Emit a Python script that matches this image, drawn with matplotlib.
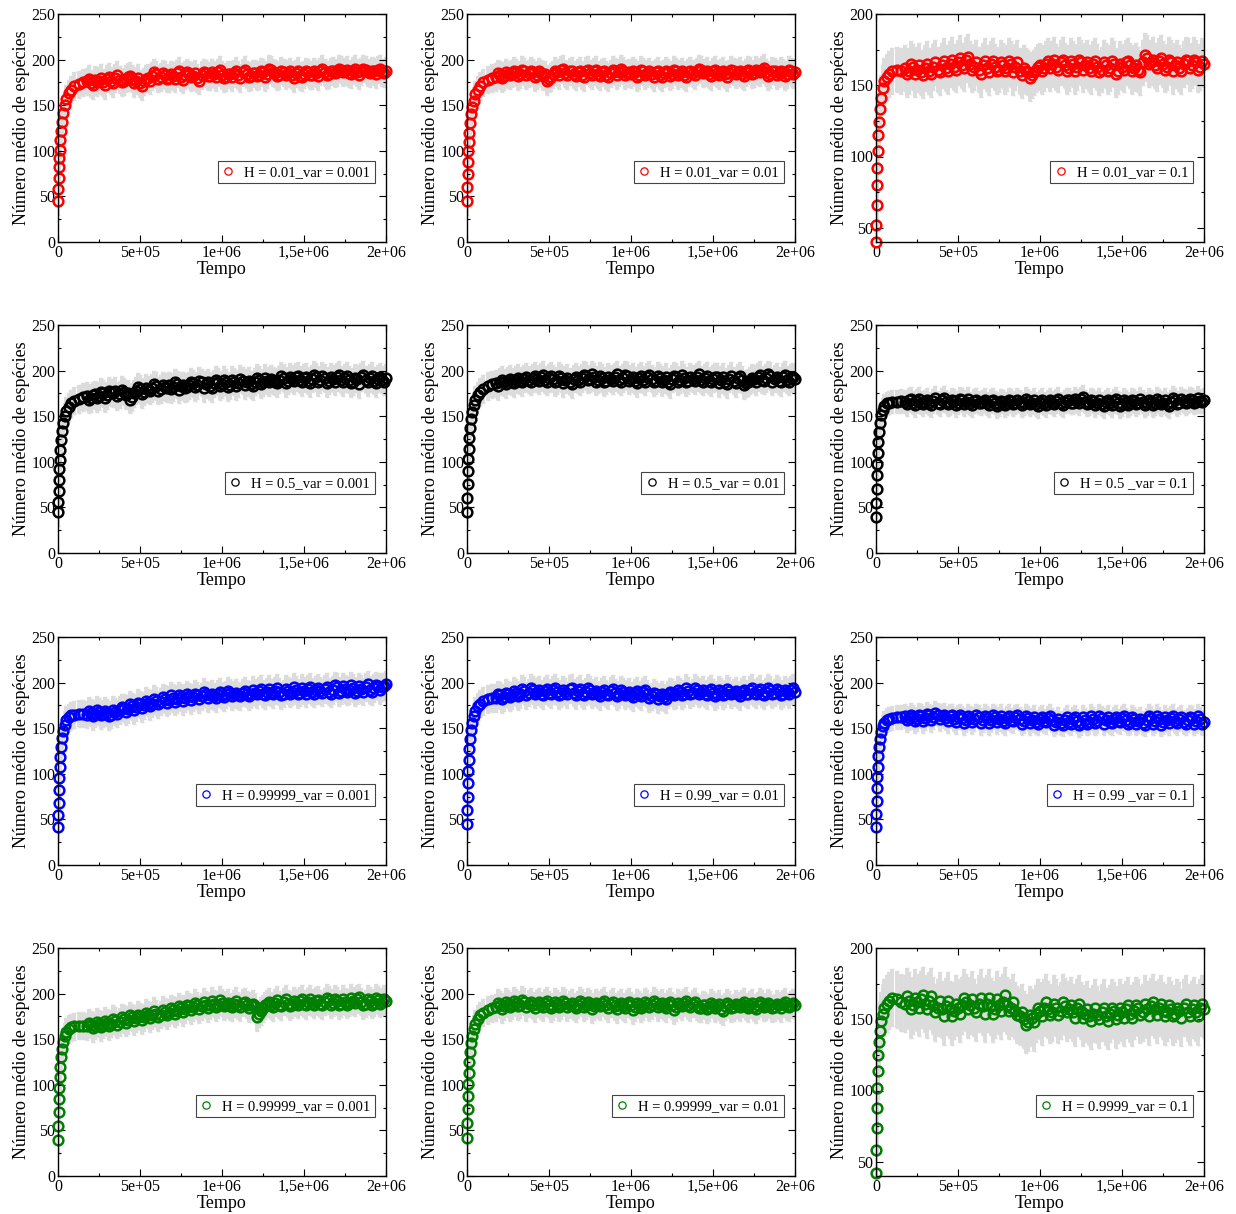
import matplotlib
matplotlib.use('Agg')
import matplotlib.pyplot as plt
import numpy as np
from matplotlib.ticker import MultipleLocator

plt.rcParams['font.family'] = ['Liberation Serif', 'DejaVu Serif']

# sampling times: dense during the initial rise, then every 1.25e4 steps
t_early = [0, 2e3, 4e3, 6e3, 8e3, 1e4, 1.4e4, 1.8e4, 2.4e4, 3e4, 4e4, 5e4,
           6.5e4, 8e4, 1e5, 1.25e5, 1.5e5]
t_late = list(np.arange(1.75e5, 2.0e6 + 1, 1.25e4))   # 147 samples
tempo = np.array(t_early + t_late)

# Each run: early rise (17), late samples on the 2.5e4 grid (74) and the
# samples halfway between them (73).

# H = 0.01
h001_v0001_ini = [45, 58, 70, 82, 92, 101, 112, 122, 132, 141, 150, 157, 163, 167, 171, 173, 175]
h001_v0001_a = [176, 174, 178, 177, 175, 179, 177, 180, 178, 176,
                181, 179, 177, 174, 176, 180, 182, 184, 181, 183,
                180, 182, 185, 181, 183, 184, 182, 180, 183, 185,
                182, 184, 186, 183, 181, 184, 185, 183, 186, 184,
                182, 185, 183, 186, 184, 189, 185, 183, 186, 185,
                183, 185, 182, 184, 186, 183, 185, 187, 186, 184,
                188, 186, 189, 187, 185, 188, 186, 187, 189, 185,
                187, 189, 186, 188]
h001_v0001_b = [179, 172, 175, 180, 172, 181, 174, 183, 175, 179,
                182, 174, 180, 171, 179, 177, 186, 179, 185, 179,
                184, 179, 188, 178, 186, 181, 185, 177, 186, 182,
                186, 181, 189, 180, 184, 181, 188, 180, 189, 181,
                185, 182, 187, 181, 190, 186, 182, 188, 183, 187,
                180, 188, 181, 187, 183, 187, 182, 190, 183, 187,
                185, 190, 186, 189, 184, 190, 183, 190, 186, 188,
                184, 190, 185]

h001_v001_ini = [45, 60, 75, 88, 100, 110, 120, 130, 140, 148, 155, 162, 167, 171, 175, 178, 180]
h001_v001_a = [181, 183, 182, 184, 185, 186, 184, 187, 185, 186,
               183, 185, 184, 179, 184, 186, 189, 185, 187, 184,
               186, 183, 188, 185, 187, 184, 186, 183, 185, 187,
               186, 188, 185, 184, 186, 183, 187, 185, 184, 186,
               183, 185, 186, 184, 187, 185, 183, 186, 185, 187,
               189, 186, 184, 187, 185, 186, 184, 185, 187, 186,
               184, 186, 188, 185, 187, 189, 186, 184, 187, 185,
               186, 184, 187, 186]
h001_v001_b = [185, 180, 186, 183, 188, 182, 189, 183, 188, 181,
               187, 182, 176, 181, 188, 183, 190, 183, 188, 182,
               188, 181, 189, 183, 189, 182, 187, 181, 189, 183,
               190, 183, 186, 188, 181, 189, 183, 187, 181, 188,
               181, 188, 182, 189, 183, 187, 181, 188, 183, 190,
               185, 188, 182, 189, 183, 188, 181, 189, 184, 188,
               182, 189, 184, 189, 186, 191, 182, 188, 183, 188,
               182, 189, 184]

h001_v01_ini = [40, 52, 66, 80, 92, 104, 115, 124, 133, 141, 148, 153, 156, 158, 160, 161, 160]
h001_v01_a = [162, 160, 163, 161, 159, 162, 160, 163, 161, 164,
              162, 165, 163, 166, 164, 168, 165, 163, 161, 164,
              162, 165, 163, 161, 164, 162, 165, 163, 160, 162,
              159, 157, 161, 164, 162, 167, 165, 163, 166, 164,
              162, 165, 163, 166, 164, 162, 165, 163, 161, 164,
              162, 165, 160, 163, 166, 164, 162, 161, 166, 169,
              166, 164, 167, 165, 163, 166, 164, 162, 165, 167,
              164, 166, 163, 165]
h001_v01_b = [158, 165, 158, 164, 157, 165, 158, 166, 159, 167,
              160, 168, 161, 169, 162, 170, 161, 166, 158, 167,
              159, 167, 160, 166, 160, 167, 159, 166, 157, 160,
              155, 159, 163, 160, 165, 162, 168, 161, 168, 160,
              167, 160, 168, 161, 166, 160, 167, 159, 166, 160,
              167, 158, 165, 161, 167, 160, 164, 159, 171, 165,
              168, 162, 169, 161, 168, 160, 166, 160, 168, 162,
              168, 161, 167]

# H = 0.5
h05_v0001_ini = [45, 56, 68, 80, 92, 102, 113, 124, 134, 143, 150, 156, 160, 164, 167, 169, 171]
h05_v0001_a = [172, 170, 174, 172, 175, 173, 176, 178, 174, 177,
               175, 171, 178, 180, 177, 179, 181, 183, 180, 182,
               184, 182, 185, 183, 181, 184, 186, 184, 187, 185,
               183, 186, 188, 185, 187, 184, 188, 186, 189, 187,
               185, 188, 190, 187, 189, 191, 188, 190, 192, 189,
               191, 193, 190, 192, 189, 191, 193, 190, 192, 189,
               191, 193, 190, 192, 190, 188, 191, 193, 190, 192,
               189, 191, 190, 192]
h05_v0001_b = [168, 173, 170, 177, 170, 178, 175, 172, 179, 173,
               168, 175, 182, 174, 181, 178, 185, 178, 184, 181,
               180, 187, 179, 184, 182, 188, 182, 189, 181, 187,
               181, 190, 183, 190, 182, 190, 183, 191, 184, 189,
               183, 192, 185, 192, 187, 189, 186, 194, 186, 193,
               189, 194, 187, 193, 186, 195, 187, 194, 186, 193,
               188, 195, 187, 194, 186, 192, 185, 195, 187, 194,
               186, 193, 188]

h05_v001_ini = [45, 60, 76, 90, 103, 114, 126, 137, 147, 155, 162, 168, 173, 177, 180, 183, 185]
h05_v001_a = [186, 188, 187, 189, 188, 190, 189, 191, 190, 192,
              191, 193, 190, 192, 191, 189, 192, 190, 188, 191,
              190, 192, 194, 191, 193, 190, 192, 189, 191, 193,
              190, 192, 194, 191, 189, 192, 190, 193, 191, 189,
              192, 190, 188, 191, 193, 190, 192, 189, 191, 193,
              190, 192, 189, 191, 193, 190, 188, 191, 189, 192,
              190, 186, 189, 191, 193, 190, 192, 194, 191, 189,
              193, 190, 192, 191]
h05_v001_b = [183, 190, 185, 191, 186, 192, 187, 193, 188, 194,
              189, 195, 188, 194, 187, 194, 186, 192, 185, 193,
              188, 195, 190, 196, 188, 194, 187, 193, 189, 196,
              188, 195, 189, 193, 186, 194, 188, 195, 187, 194,
              187, 193, 185, 194, 188, 195, 187, 193, 189, 196,
              188, 194, 187, 193, 186, 193, 185, 194, 186, 194,
              184, 187, 192, 188, 195, 189, 196, 188, 193, 187,
              195, 188, 193]

h05_v01_ini = [40, 55, 70, 85, 98, 110, 122, 133, 143, 151, 157, 161, 164, 165, 166, 166, 167]
h05_v01_a = [166, 168, 165, 167, 165, 166, 164, 167, 165, 168,
             166, 164, 167, 165, 168, 166, 164, 167, 165, 166,
             164, 167, 165, 163, 166, 164, 167, 165, 166, 164,
             167, 165, 163, 166, 164, 166, 165, 167, 164, 166,
             168, 165, 167, 169, 166, 164, 167, 165, 163, 166,
             164, 167, 165, 163, 166, 164, 167, 165, 166, 164,
             166, 164, 167, 165, 163, 166, 168, 165, 167, 166,
             168, 166, 167, 168]
h05_v01_b = [163, 169, 162, 169, 163, 168, 162, 170, 163, 170,
             163, 168, 162, 169, 163, 169, 162, 168, 164, 168,
             162, 168, 161, 167, 162, 168, 163, 168, 162, 169,
             163, 168, 161, 168, 162, 168, 163, 169, 162, 168,
             165, 169, 164, 171, 163, 168, 162, 168, 161, 168,
             162, 169, 161, 168, 162, 168, 163, 169, 162, 168,
             162, 169, 163, 168, 161, 170, 163, 169, 164, 169,
             165, 170, 166]

# H = 0.99 / 0.99999 (blue)
h99999_v0001_ini = [42, 55, 68, 82, 95, 107, 118, 129, 139, 147, 154, 159, 162, 164, 165, 166, 166]
h99999_v0001_a = [165, 167, 166, 168, 166, 167, 165, 168, 170, 172,
                  171, 174, 173, 176, 175, 178, 177, 180, 179, 182,
                  181, 183, 182, 184, 183, 185, 184, 186, 185, 187,
                  186, 185, 188, 186, 187, 189, 187, 186, 189, 188,
                  187, 189, 191, 188, 190, 189, 191, 190, 188, 191,
                  190, 192, 189, 191, 193, 190, 192, 191, 193, 190,
                  192, 195, 191, 193, 192, 194, 191, 193, 195, 192,
                  194, 196, 195, 198]
h99999_v0001_b = [169, 163, 170, 164, 169, 163, 170, 166, 173, 168,
                  176, 170, 178, 172, 180, 174, 182, 176, 184, 178,
                  186, 179, 186, 180, 187, 181, 188, 182, 190, 183,
                  188, 183, 190, 184, 191, 185, 189, 185, 191, 185,
                  192, 187, 193, 186, 193, 187, 194, 186, 193, 188,
                  195, 187, 194, 188, 195, 188, 194, 189, 195, 188,
                  197, 189, 196, 190, 197, 189, 196, 190, 198, 190,
                  197, 192, 196]

h99_v001_ini = [45, 60, 75, 90, 103, 115, 127, 138, 148, 156, 163, 169, 174, 177, 180, 182, 183]
h99_v001_a = [183, 186, 184, 187, 186, 189, 187, 191, 189, 192,
              190, 188, 191, 189, 192, 190, 188, 190, 193, 189,
              191, 188, 190, 192, 189, 187, 190, 188, 191, 189,
              187, 190, 188, 186, 189, 187, 190, 188, 185, 187,
              185, 184, 187, 189, 187, 190, 188, 191, 189, 192,
              190, 188, 191, 189, 187, 190, 188, 191, 189, 187,
              190, 188, 192, 189, 191, 188, 190, 192, 189, 191,
              188, 190, 192, 190]
h99_v001_b = [187, 182, 189, 184, 191, 185, 193, 186, 194, 187,
              192, 186, 193, 187, 194, 186, 192, 187, 194, 186,
              193, 186, 194, 187, 191, 185, 192, 186, 193, 185,
              192, 186, 190, 184, 191, 185, 192, 183, 189, 182,
              187, 182, 190, 186, 192, 186, 194, 187, 194, 188,
              192, 186, 193, 185, 192, 186, 193, 187, 191, 185,
              192, 187, 194, 187, 193, 186, 194, 187, 193, 186,
              192, 187, 194]

h99_v01_ini = [42, 56, 70, 84, 97, 108, 119, 129, 138, 146, 152, 156, 159, 160, 161, 162, 162]
h99_v01_a = [163, 161, 162, 160, 163, 161, 164, 162, 165, 163,
             161, 163, 160, 162, 161, 159, 161, 160, 162, 159,
             161, 159, 162, 160, 158, 161, 159, 162, 160, 158,
             161, 159, 157, 160, 158, 161, 159, 157, 156, 159,
             157, 160, 158, 156, 159, 157, 160, 158, 161, 159,
             157, 160, 158, 161, 159, 157, 160, 158, 156, 159,
             161, 158, 160, 157, 159, 161, 158, 160, 157, 159,
             161, 158, 160, 157]
h99_v01_b = [159, 165, 158, 165, 158, 166, 159, 167, 160, 165,
             158, 164, 157, 164, 156, 163, 157, 164, 156, 163,
             156, 164, 157, 163, 156, 163, 158, 164, 155, 163,
             156, 162, 155, 162, 157, 163, 154, 160, 154, 162,
             155, 162, 153, 162, 155, 163, 156, 163, 155, 162,
             156, 162, 157, 163, 155, 162, 155, 160, 154, 163,
             155, 163, 154, 162, 156, 163, 156, 162, 155, 162,
             155, 163, 155]

# H = 0.9999 / 0.99999 (green)
h99999g_v0001_ini = [40, 55, 70, 84, 97, 109, 120, 130, 139, 147, 153, 158, 161, 163, 164, 165, 165]
h99999g_v0001_a = [164, 166, 165, 167, 166, 168, 167, 170, 169, 172,
                   171, 174, 173, 175, 174, 177, 176, 178, 177, 180,
                   179, 182, 181, 184, 183, 186, 185, 187, 186, 188,
                   187, 189, 188, 190, 188, 186, 189, 187, 190, 188,
                   187, 186, 178, 184, 189, 187, 190, 188, 191, 189,
                   188, 190, 192, 189, 191, 190, 192, 189, 191, 193,
                   190, 192, 189, 191, 190, 192, 194, 191, 189, 192,
                   190, 193, 191, 192]
h99999g_v0001_b = [168, 162, 169, 163, 170, 164, 172, 166, 174, 168,
                   176, 170, 177, 171, 179, 173, 181, 174, 182, 176,
                   184, 178, 186, 180, 188, 182, 190, 183, 191, 184,
                   192, 185, 193, 186, 190, 185, 192, 185, 191, 184,
                   189, 174, 181, 187, 191, 185, 193, 186, 194, 186,
                   192, 188, 194, 187, 194, 188, 193, 187, 195, 188,
                   194, 187, 194, 188, 195, 190, 196, 187, 194, 188,
                   195, 189, 194]

h99999g_v001_ini = [42, 58, 74, 88, 101, 113, 125, 136, 146, 154, 161, 167, 172, 176, 179, 182, 184]
h99999g_v001_a = [185, 188, 186, 189, 187, 190, 188, 191, 189, 187,
                  189, 187, 190, 188, 186, 189, 187, 190, 188, 186,
                  188, 190, 187, 189, 186, 188, 190, 187, 189, 186,
                  188, 186, 189, 187, 185, 188, 186, 189, 187, 190,
                  188, 186, 189, 187, 185, 188, 190, 187, 189, 186,
                  184, 187, 185, 188, 186, 183, 186, 188, 185, 187,
                  189, 186, 188, 185, 187, 189, 186, 188, 185, 187,
                  189, 186, 188, 187]
h99999g_v001_b = [190, 183, 191, 185, 192, 186, 193, 185, 191, 184,
                  191, 185, 192, 184, 191, 185, 192, 185, 190, 184,
                  192, 185, 191, 183, 190, 186, 192, 184, 191, 183,
                  190, 184, 191, 182, 190, 184, 191, 185, 192, 185,
                  190, 184, 191, 182, 190, 186, 192, 185, 191, 184,
                  188, 183, 190, 184, 189, 181, 190, 184, 189, 185,
                  191, 184, 190, 183, 191, 185, 190, 184, 189, 184,
                  191, 185, 190]

h9999_v01_ini = [42, 58, 74, 88, 102, 114, 125, 134, 142, 149, 154, 158, 161, 163, 165, 164, 162]
h9999_v01_a = [161, 163, 160, 162, 164, 161, 163, 160, 158, 157,
               159, 157, 156, 158, 160, 162, 160, 158, 161, 159,
               161, 159, 157, 160, 162, 160, 158, 156, 152, 150,
               148, 151, 154, 156, 158, 157, 155, 158, 156, 159,
               157, 155, 158, 156, 154, 152, 154, 153, 155, 152,
               154, 156, 153, 155, 157, 154, 156, 158, 155, 157,
               159, 157, 158, 156, 155, 157, 154, 156, 158, 155,
               157, 155, 158, 157]
h9999_v01_b = [166, 157, 165, 158, 167, 157, 166, 155, 163, 152,
               163, 152, 161, 154, 165, 157, 164, 155, 165, 154,
               165, 154, 164, 156, 167, 156, 162, 153, 155, 146,
               153, 148, 158, 152, 162, 153, 161, 153, 162, 155,
               160, 151, 161, 151, 157, 149, 158, 150, 158, 149,
               158, 150, 158, 151, 160, 151, 160, 153, 161, 152,
               162, 153, 161, 152, 160, 152, 158, 151, 161, 152,
               160, 152, 161]

runs = [(h001_v0001_ini, h001_v0001_a, h001_v0001_b),
        (h001_v001_ini, h001_v001_a, h001_v001_b),
        (h001_v01_ini, h001_v01_a, h001_v01_b),
        (h05_v0001_ini, h05_v0001_a, h05_v0001_b),
        (h05_v001_ini, h05_v001_a, h05_v001_b),
        (h05_v01_ini, h05_v01_a, h05_v01_b),
        (h99999_v0001_ini, h99999_v0001_a, h99999_v0001_b),
        (h99_v001_ini, h99_v001_a, h99_v001_b),
        (h99_v01_ini, h99_v01_a, h99_v01_b),
        (h99999g_v0001_ini, h99999g_v0001_a, h99999g_v0001_b),
        (h99999g_v001_ini, h99999g_v001_a, h99999g_v001_b),
        (h9999_v01_ini, h9999_v01_a, h9999_v01_b)]
labels = ['H = 0.01_var = 0.001', 'H = 0.01_var = 0.01', 'H = 0.01_var = 0.1',
          'H = 0.5_var = 0.001', 'H = 0.5_var = 0.01', 'H = 0.5 _var = 0.1',
          'H = 0.99999_var = 0.001', 'H = 0.99_var = 0.01', 'H = 0.99 _var = 0.1',
          'H = 0.99999_var = 0.001', 'H = 0.99999_var = 0.01', 'H = 0.9999_var = 0.1']
desvio = [15, 15, 16, 15, 15, 13, 15, 15, 13, 15, 15, 20]
y_min = [0, 0, 40, 0, 0, 0, 0, 0, 0, 0, 0, 40]
y_max = [250, 250, 200, 250, 250, 250, 250, 250, 250, 250, 250, 200]
row_colors = ['#ff0000', '#000000', '#0000ff', '#008000']


def join_run(ini, a, b):
    late = np.empty(len(a) + len(b))
    late[0::2] = a
    late[1::2] = b
    return np.concatenate([np.array(ini, dtype=float), late])


W, H = 1236, 1214
col_left = [58, 467, 876]
row_bottom = [242, 553, 865, 1176]
ax_w, ax_h = 328, 228

fig = plt.figure(figsize=(W / 100, H / 100), dpi=100)

for i, run in enumerate(runs):
    r, c = divmod(i, 3)
    ax = fig.add_axes([col_left[c] / W, (H - row_bottom[r]) / H, ax_w / W, ax_h / H])
    vals = join_run(*run)
    ax.errorbar(tempo, vals, yerr=desvio[i], fmt='none', ecolor='#dcdcdc',
                elinewidth=2.8, capsize=1.5, capthick=1.0, zorder=1)
    ax.plot(tempo, vals, 'o', mfc='none', mec=row_colors[r], ms=7, mew=1.8,
            label=labels[i], zorder=2, clip_on=False)

    ax.set_xlim(0, 2e6)
    ax.set_xticks([0, 5e5, 1e6, 1.5e6, 2e6])
    ax.set_xticklabels(['0', '5e+05', '1e+06', '1,5e+06', '2e+06'])
    ax.xaxis.set_minor_locator(MultipleLocator(2.5e5))
    ax.yaxis.set_major_locator(MultipleLocator(50))
    ax.yaxis.set_minor_locator(MultipleLocator(25))
    ax.set_ylim(y_min[i], y_max[i])
    ax.tick_params(which='both', direction='in', top=True, right=True,
                   labelsize=11.5, width=0.8)
    ax.tick_params(which='major', length=5, pad=2)
    ax.tick_params(which='minor', length=2.5)
    for s in ax.spines.values():
        s.set_linewidth(1.0)

    ax.set_xlabel('Tempo', fontsize=13, labelpad=0)
    ax.set_ylabel('Número médio de espécies', fontsize=13, labelpad=1)

    leg = ax.legend(loc='center right', bbox_to_anchor=(0.965, 0.305), fontsize=10.5,
                    frameon=True, fancybox=False, framealpha=1, edgecolor='#444444',
                    handlelength=0.8, handletextpad=0.7, borderpad=0.3,
                    borderaxespad=0, markerscale=0.75)
    leg.get_frame().set_linewidth(0.8)
    for h in leg.legend_handles:
        h.set_markeredgewidth(0.9)

fig.savefig('out.png', dpi=100)
